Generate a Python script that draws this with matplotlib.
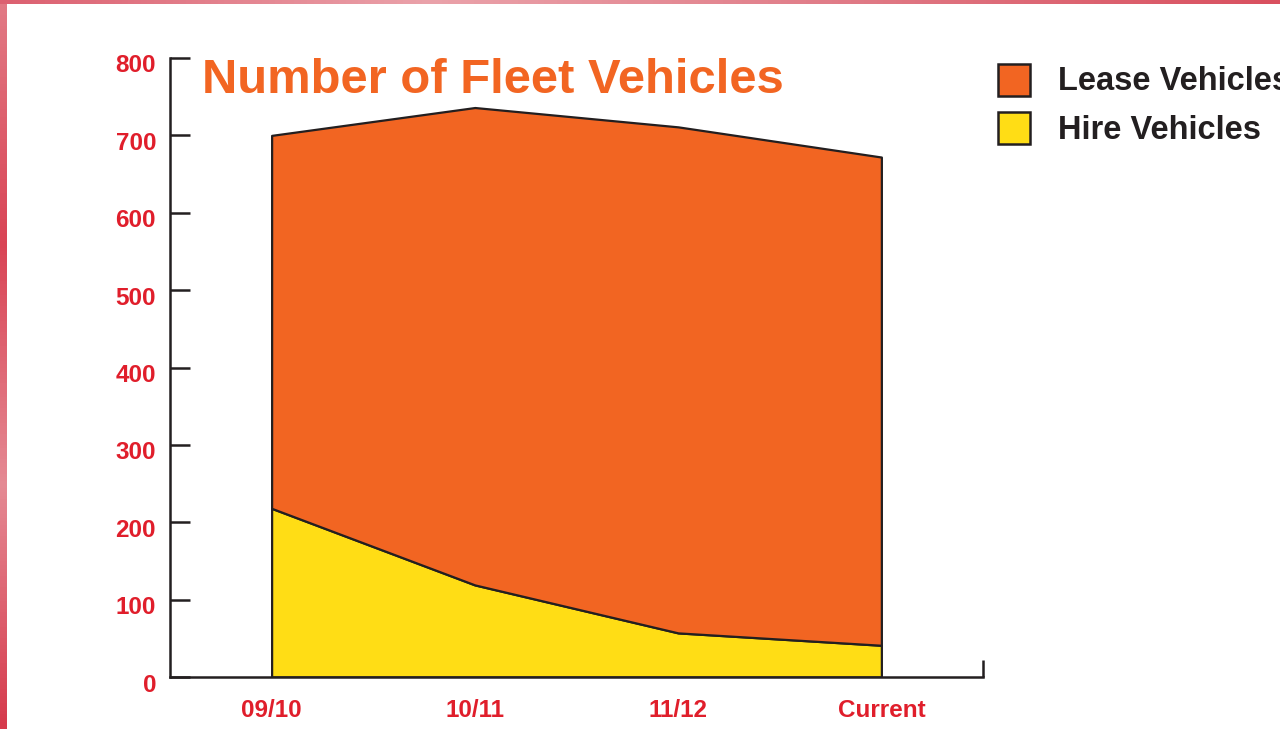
import matplotlib
matplotlib.use("Agg")
import matplotlib.pyplot as plt
from matplotlib.patches import Rectangle
from matplotlib.transforms import ScaledTranslation
import numpy as np

categories = ["09/10", "10/11", "11/12", "Current"]
hire_vehicles = [218, 119, 57, 41]
lease_vehicles = [482, 617, 654, 631]
y_ticks = [0, 100, 200, 300, 400, 500, 600, 700, 800]
title = "Number of Fleet Vehicles"
series_names = ["Lease Vehicles", "Hire Vehicles"]

ORANGE = "#F26522"
YELLOW = "#FFDD15"
RED = "#E01E2B"
DARK = "#231F20"

plt.rcParams['font.family'] = ['Liberation Sans', 'DejaVu Sans']

fig = plt.figure(figsize=(12.8, 7.29), dpi=100)
fig.patch.set_facecolor("white")

# decorative reddish border (left and top)
bg = fig.add_axes([0, 0, 1, 1], zorder=-10)
bg.set_axis_off()
grad_v = np.linspace(0, 1, 200).reshape(-1, 1)
bg.imshow(grad_v, extent=[0, 7, 729, 0], cmap=matplotlib.colors.LinearSegmentedColormap.from_list(
    "b", ["#e27a85", "#d94455", "#e58a94", "#d63a4c"]), aspect="auto")
grad_h = np.linspace(0, 1, 200).reshape(1, -1)
bg.imshow(grad_h, extent=[0, 1280, 4, 0], cmap=matplotlib.colors.LinearSegmentedColormap.from_list(
    "t", ["#dc6070", "#eaa2aa", "#e07a86", "#d9505f"]), aspect="auto")
bg.set_xlim(0, 1280)
bg.set_ylim(729, 0)

ax = fig.add_axes([170/1280, 1-677/729, (983-170)/1280, (677-58)/729])
ax.set_facecolor("none")
x = np.arange(len(categories))
ax.stackplot(x, hire_vehicles, lease_vehicles, colors=[YELLOW, ORANGE],
             edgecolor=DARK, linewidth=1.6, zorder=2)
ax.set_xlim(-0.5, 3.5)
ax.set_ylim(0, 800)

for s in ["top", "right"]:
    ax.spines[s].set_visible(False)
for s in ["left", "bottom"]:
    ax.spines[s].set_color(DARK)
    ax.spines[s].set_linewidth(1.8)
    ax.spines[s].set_zorder(3)

ax.set_yticks(y_ticks)
ax.set_yticklabels([str(v) for v in y_ticks])
ax.tick_params(axis="y", direction="in", length=14.5, width=1.8, color=DARK,
               pad=10, labelsize=17.5, labelcolor=RED)
shift = ScaledTranslation(0, -0.055, fig.dpi_scale_trans)
for lbl in ax.get_yticklabels():
    lbl.set_fontweight("bold")
    lbl.set_transform(lbl.get_transform() + shift)

ax.set_xticks(x)
ax.set_xticklabels(categories)
ax.tick_params(axis="x", which="major", length=0, pad=16, labelsize=17.5, labelcolor=RED)
for lbl in ax.get_xticklabels():
    lbl.set_fontweight("bold")
ax.set_xticks([3.5], minor=True)
ax.tick_params(axis="x", which="minor", direction="in", length=12, width=1.8, color=DARK)

fig.text(202/1280, 1-93/729, title, color=ORANGE, fontsize=35.3, fontweight="bold",
         ha="left", va="baseline")

# legend
legend_colors = [ORANGE, YELLOW]
legend_box_center = [80, 128]
legend_baseline = [90, 139]
for name, col, yc, yb in zip(series_names, legend_colors, legend_box_center, legend_baseline):
    fig.patches.append(Rectangle((998/1280, 1-(yc+16)/729), 32/1280, 32/729,
                                 transform=fig.transFigure, facecolor=col,
                                 edgecolor=DARK, linewidth=1.8))
    fig.text(1058/1280, 1-yb/729, name, color=DARK, fontsize=23.5, fontweight="bold",
             ha="left", va="baseline")

fig.savefig("out.png", dpi=100)
